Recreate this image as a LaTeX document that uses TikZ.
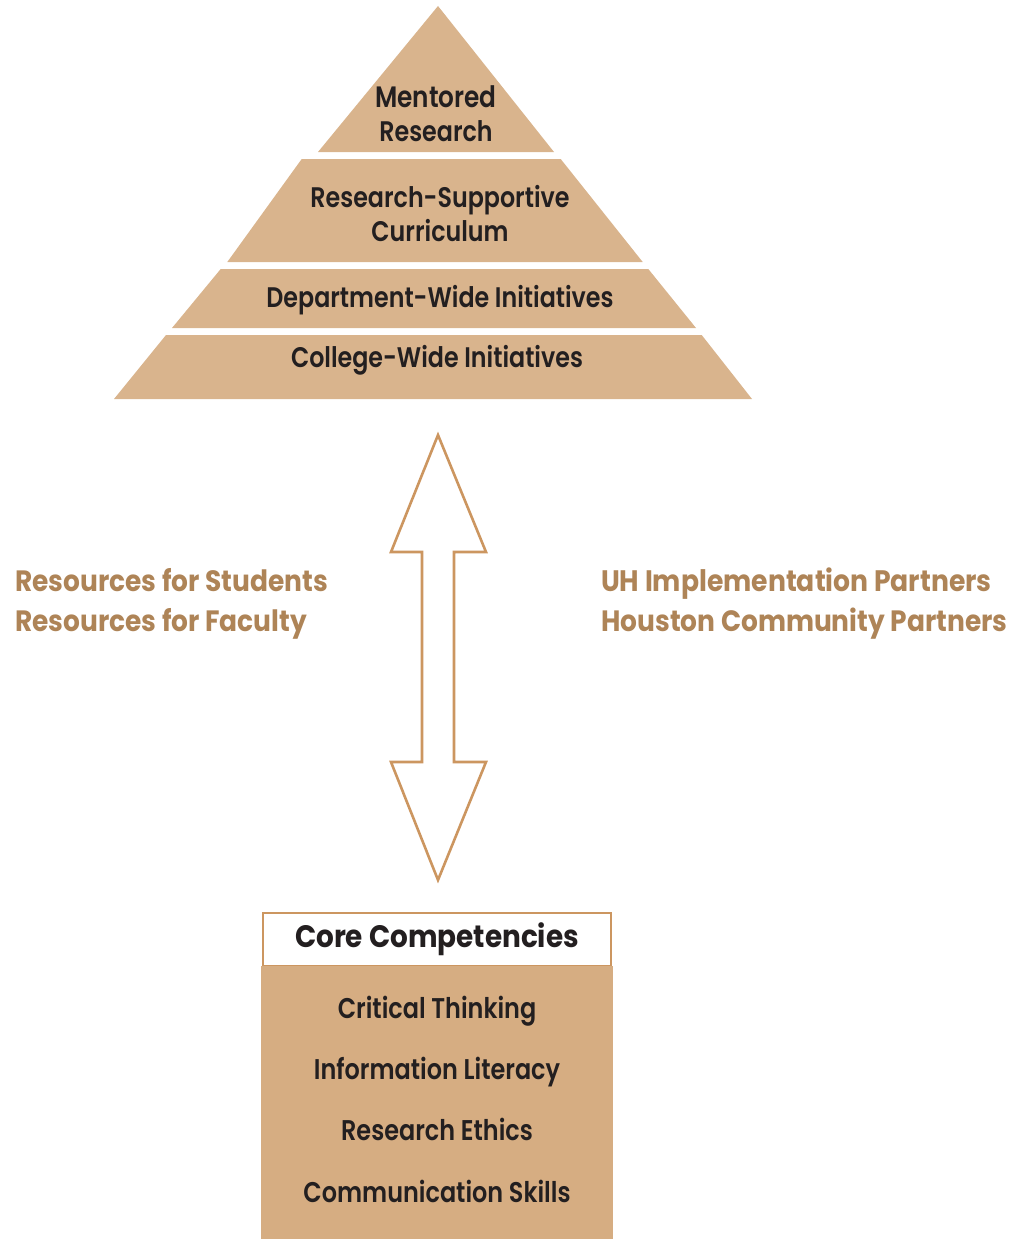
\documentclass[tikz,border=0pt]{standalone}
\usepackage{fontspec}
\setmainfont{Poppins}
\newfontfamily\medf{Poppins SemiBold}[FakeStretch=0.84]
\newfontfamily\boldf{Poppins Bold}[FakeStretch=0.9]
\definecolor{pyr}{HTML}{D9B48D}
\definecolor{boxc}{HTML}{D6AD82}
\definecolor{labc}{HTML}{AE8457}
\definecolor{arrc}{HTML}{CC9660}
\definecolor{txt}{HTML}{231F20}
\tikzset{
  band/.style={fill=pyr,draw=none},
  ptext/.style={text=txt,font=\medf\fontsize{28.3}{34}\selectfont,align=center,inner sep=0pt},
  ctext/.style={text=txt,font=\medf\fontsize{28.5}{30}\selectfont,inner sep=0pt},
  side/.style={text=labc,font=\boldf\fontsize{29.4}{40}\selectfont,align=left,inner sep=0pt,anchor=west},
  dbl/.style={draw=arrc,line width=2.6pt,fill=white,line join=miter}
}
\begin{document}
\begin{tikzpicture}[x=1pt,y=-1pt]
\useasboundingbox (0,0) rectangle (1019,1239);
% pyramid bands
\path[band] (438,6) -- (554,152) -- (318,152) -- cycle;
\path[band] (301.7,159) -- (560.7,159) -- (642.7,262) -- (227.3,262) -- cycle;
\path[band] (220.7,269) -- (648.3,269) -- (696,328) -- (172,328) -- cycle;
\path[band] (166,335) -- (701.7,335) -- (752,399) -- (114,399) -- cycle;
\node[ptext] (mr) at (436,114) {\fontsize{29.5}{34}\selectfont Mentored\\Research};
\node[ptext] (rsc) at (440,214) {Research-Supportive\\Curriculum};
\node[ptext] (dwi) at (440,300) {Department-Wide Initiatives};
\node[ptext] (cwi) at (437,360) {College-Wide Initiatives};
% double arrow
\coordinate (atop) at (438,435);
\coordinate (abot) at (438,880);
\draw[dbl] (atop) -- (486,552) -- (454,552) -- (454,762) -- (486,762) -- (abot)
  -- (391,762) -- (422,762) -- (422,552) -- (391,552) -- cycle;
% side labels
\node[side] (res) at (15,604) {Resources for Students\\Resources for Faculty};
\node[side] (prt) at (601,604) {\fontsize{29.6}{37.5}\selectfont UH Implementation Partners\\Houston Community Partners};
% core competencies
\node[draw=arrc,line width=1.6pt,fill=white,minimum width=348pt,minimum height=53pt,inner sep=0pt] (cch) at (437,939.5)
  {\color{txt}\boldf\fontsize{31}{34}\selectfont\raisebox{-2pt}{Core Competencies}};
\path[fill=boxc] (261,966) rectangle (613,1239);
\node[ctext] (ct) at (437,1011) {Critical Thinking};
\node[ctext] (il) at (437,1072) {Information Literacy};
\node[ctext] (re) at (437,1129) {Research Ethics};
\node[ctext] (cs) at (437,1191) {Communication Skills};
\end{tikzpicture}
\end{document}
